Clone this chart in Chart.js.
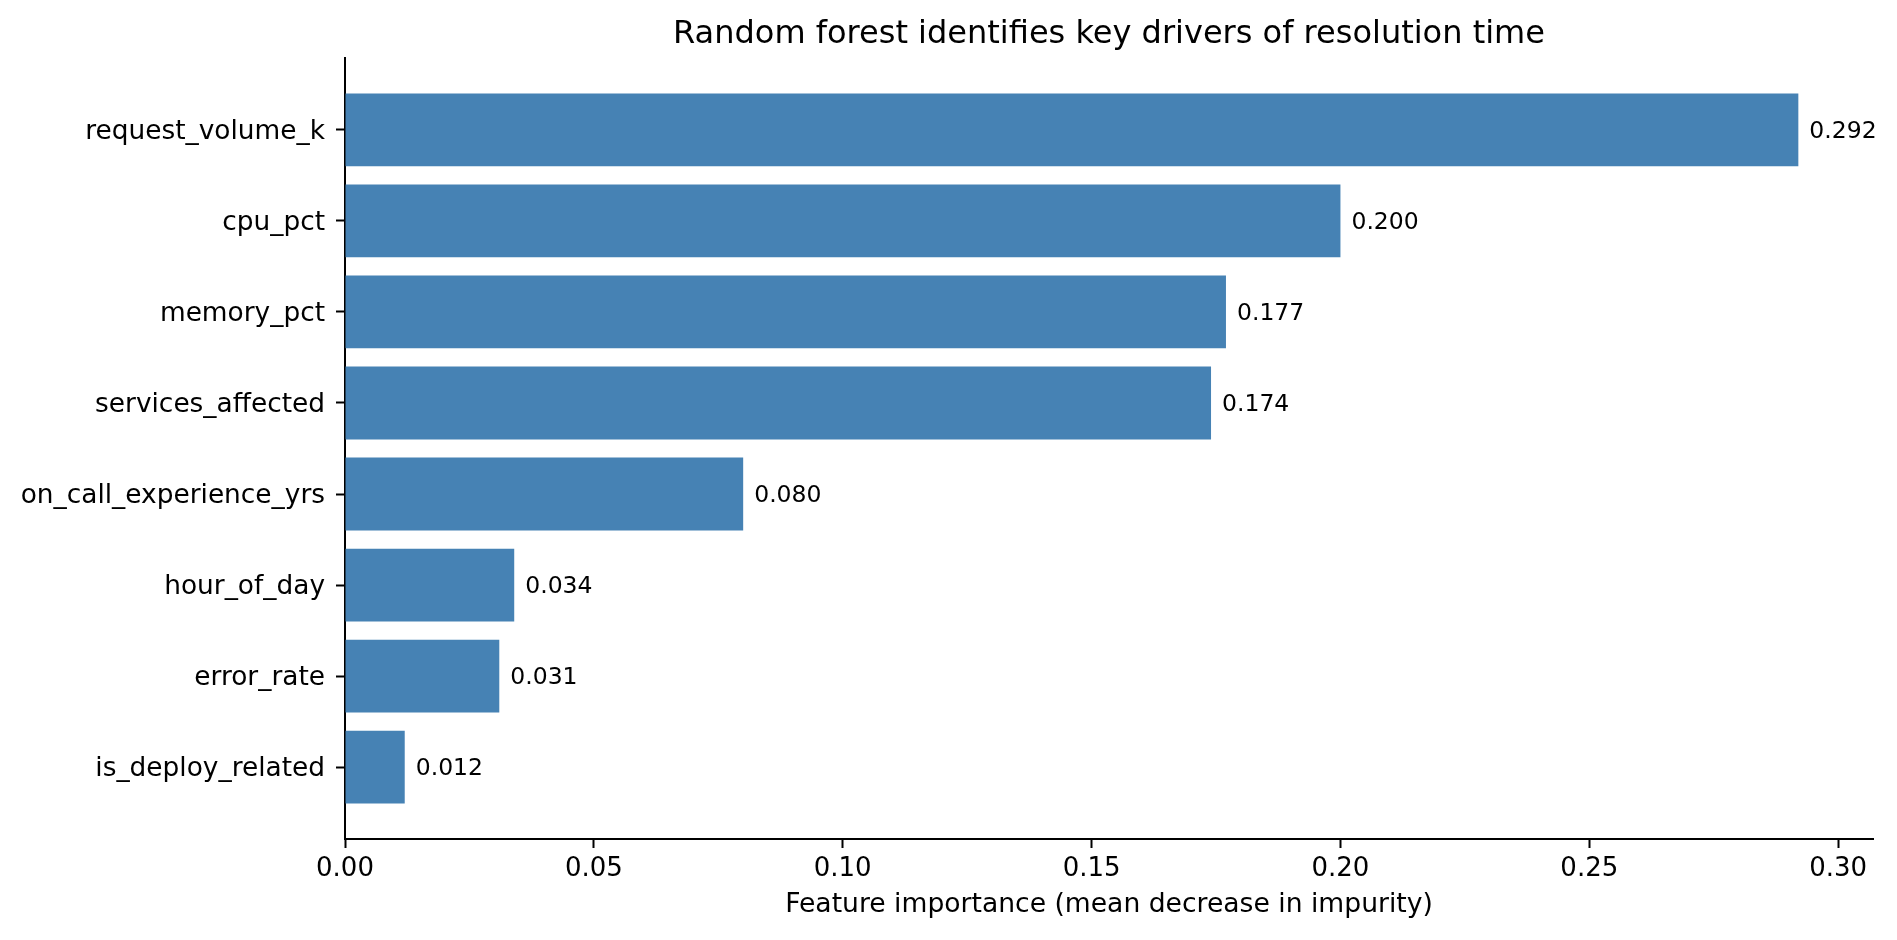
<!DOCTYPE html>
<html>
<head>
<meta charset="utf-8">
<script src="https://cdn.jsdelivr.net/npm/chart.js@4"></script>
<style>
    body { margin: 0; background: #fff; }
    .chart-box { width: 1897px; height: 940px; }
</style>
</head>
<body>
<div class="chart-box"><canvas id="myChart"></canvas></div>
<script>
// data (top bar first)
const features = ['request_volume_k', 'cpu_pct', 'memory_pct', 'services_affected',
    'on_call_experience_yrs', 'hour_of_day', 'error_rate', 'is_deploy_related'];
const importance = [0.292, 0.200, 0.177, 0.174, 0.080, 0.034, 0.031, 0.012];
const xTicks = [0.00, 0.05, 0.10, 0.15, 0.20, 0.25, 0.30];

const titleText = 'Random forest identifies key drivers of resolution time';
const xTitle = 'Feature importance (mean decrease in impurity)';
const font = '"DejaVu Sans", sans-serif';

// title centred over the plot area, like matplotlib's ax.set_title
const axTitle = {
    id: 'axTitle',
    afterDraw(chart) {
        const { ctx, chartArea } = chart;
        ctx.save();
        ctx.font = '32px ' + font;
        ctx.fillStyle = '#000';
        ctx.textAlign = 'center';
        ctx.textBaseline = 'middle';
        ctx.fillText(titleText, (chartArea.left + chartArea.right) / 2, 35);
        ctx.restore();
    }
};

// value written just past the end of each bar
const barValues = {
    id: 'barValues',
    afterDatasetsDraw(chart) {
        const { ctx } = chart;
        const meta = chart.getDatasetMeta(0);
        ctx.save();
        ctx.font = '23.5px ' + font;
        ctx.fillStyle = '#000';
        ctx.textAlign = 'left';
        ctx.textBaseline = 'middle';
        meta.data.forEach((bar, i) => {
            ctx.fillText(importance[i].toFixed(3), bar.x + 11, bar.y + 2);
        });
        ctx.restore();
    }
};

const ctx = document.getElementById('myChart');

new Chart(ctx, {
    type: 'bar',
    data: {
        datasets: [{
            data: features.map((f, i) => ({ x: importance[i], y: i })),
            backgroundColor: '#4682B4',
            categoryPercentage: 1,
            barPercentage: 0.8
        }]
    },
    plugins: [axTitle, barValues],
    options: {
        indexAxis: 'y',
        responsive: true,
        maintainAspectRatio: false,
        animation: false,
        layout: {
            padding: { top: 58, right: 24, bottom: 0, left: 0 }
        },
        plugins: {
            legend: { display: false },
            tooltip: { enabled: false },
            title: { display: false }
        },
        scales: {
            x: {
                type: 'linear',
                min: 0,
                max: 0.307,
                afterFit: (scale) => { scale.height = 101; },
                afterBuildTicks: (scale) => { scale.ticks = xTicks.map(v => ({ value: v })); },
                grid: {
                    drawOnChartArea: false,
                    drawTicks: true,
                    tickLength: 9,
                    tickWidth: 2,
                    tickColor: '#000'
                },
                border: { display: true, color: '#000', width: 2 },
                ticks: {
                    color: '#000',
                    padding: 6,
                    maxRotation: 0,
                    font: { family: font, size: 26 },
                    callback: (value) => value.toFixed(2)
                },
                title: {
                    display: true,
                    text: xTitle,
                    color: '#000',
                    font: { family: font, size: 26.6 },
                    padding: { top: 0, bottom: 19 }
                }
            },
            y: {
                type: 'linear',
                reverse: true,
                offset: false,
                min: -0.79,
                max: 7.79,
                afterFit: (scale) => { scale.width = 345; },
                afterBuildTicks: (scale) => { scale.ticks = features.map((f, i) => ({ value: i })); },
                grid: {
                    offset: false,
                    drawOnChartArea: false,
                    drawTicks: true,
                    tickLength: 9,
                    tickWidth: 2,
                    tickColor: '#000'
                },
                border: { display: true, color: '#000', width: 2 },
                ticks: {
                    color: '#000',
                    padding: 11,
                    labelOffset: 2,
                    font: { family: font, size: 26.4 },
                    callback: (value) => features[value]
                }
            }
        }
    }
});
</script>
</body>
</html>
